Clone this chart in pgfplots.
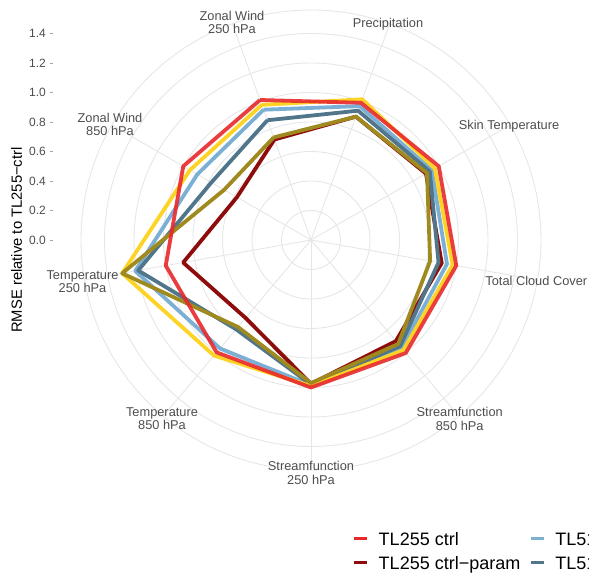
\documentclass[border=0pt]{standalone}
\usepackage{pgfplots}
\pgfplotsset{compat=1.18}
\usepackage{fontspec}
\setmainfont{Liberation Sans}
\definecolor{cRed}{HTML}{E8282B}
\definecolor{cDark}{HTML}{8E0C0C}
\definecolor{cLB}{HTML}{7BAFD4}
\definecolor{cSlate}{HTML}{51758A}
\definecolor{cYel}{HTML}{FDD425}
\definecolor{cOli}{HTML}{9E8A1F}
\definecolor{gridc}{HTML}{E6E6E6}
\definecolor{labc}{HTML}{4D4D4D}
\tikzset{lab/.style={font=\fontsize{12.8bp}{15bp}\selectfont, text=labc, inner sep=0pt, anchor=base}}
\begin{document}
\begin{tikzpicture}
% radial grid
\begin{scope}[shift={(311bp,336bp)}, draw=gridc, line width=0.9bp]
  \foreach \r in {29.5,59,88.5,118,147.5,177,206.5,230}{\draw (0bp,0bp) circle[radius=\r bp];}
  \foreach \a in {110,70,30,-10,-50,-90,-130,190,150}{\draw (0bp,0bp) -- (\a:230bp);}
\end{scope}
\begin{axis}[
  anchor=origin, at={(311bp,336bp)},
  x=147.5bp, y=147.5bp,
  xmin=-1.749, xmax=1.8, ymin=-1.6, ymax=1.6,
  axis x line=none, axis y line*=left,
  y axis line style={draw=none},
  ytick={0,0.2,0.4,0.6,0.8,1.0,1.2,1.4},
  tick align=outside, major tick length=3.5bp,
  ytick style={draw=gray!70, line width=0.6bp},
  yticklabel style={font=\fontsize{12bp}{14bp}\selectfont, text=labc, inner sep=0pt, xshift=-3.5bp,
    /pgf/number format/fixed, /pgf/number format/fixed zerofill, /pgf/number format/precision=1,
    /pgf/number format/assume math mode=true},
  clip=false,
  legend columns=3,
  legend cell align=left,
  legend image code/.code={\draw[line width=3.5bp] (0bp,2.8bp) -- (12.5bp,2.8bp);},
  legend style={at={(axis cs:0.283,-1.982)}, anchor=north west, draw=none, fill=none,
    font=\fontsize{18bp}{20bp}\selectfont, inner sep=0pt, outer sep=0pt, row sep=6.5bp,
    nodes={inner sep=0pt, text height=13bp, text depth=4.5bp},
    /tikz/every odd column/.append style={column sep=10bp},
    /tikz/every even column/.append style={column sep=9bp}},
  every axis plot/.append style={line width=3.8bp, line join=round},
]
% order: ZW250, Precip, Skin, TCC, SF850, SF250, T850, T250, ZW850
\addplot[cDark, data cs=polar, forget plot] coordinates {
 (110,0.725) (70,0.89) (30,0.90) (-10,0.90) (-50,0.895) (-90,0.975) (-130,0.69) (190,0.88) (150,0.58) (110,0.725)};
\addplot[cLB, data cs=polar, forget plot] coordinates {
 (110,0.94) (70,0.966) (30,0.946) (-10,0.936) (-50,0.955) (-90,0.985) (-130,0.96) (190,1.21) (150,0.89) (110,0.94)};
\addplot[cSlate, data cs=polar, forget plot] coordinates {
 (110,0.864) (70,0.933) (30,0.93) (-10,0.878) (-50,0.94) (-90,0.98) (-130,0.79) (190,1.19) (150,0.78) (110,0.864)};
\addplot[cYel, data cs=polar, forget plot] coordinates {
 (110,0.975) (70,1.015) (30,0.97) (-10,0.975) (-50,0.975) (-90,0.99) (-130,1.023) (190,1.30) (150,0.948) (110,0.975)};
\addplot[cOli, data cs=polar, forget plot] coordinates {
 (110,0.74) (70,0.89) (30,0.908) (-10,0.82) (-50,0.92) (-90,0.97) (-130,0.77) (190,1.30) (150,0.68) (110,0.74)};
\addplot[cRed, opacity=0.9, data cs=polar, forget plot] coordinates {
 (110,1.01) (70,0.99) (30,1.0) (-10,1.0) (-50,1.0) (-90,1.0) (-130,0.995) (190,1.0) (150,1.0) (110,1.01)};
\addlegendimage{cRed}\addlegendentry{TL255 ctrl}
\addlegendimage{cLB}\addlegendentry{TL511 ctrl}
\addlegendimage{cYel}\addlegendentry{TL1023 ctrl}
\addlegendimage{cDark}\addlegendentry{TL255 ctrl−param}
\addlegendimage{cSlate}\addlegendentry{TL511 ctrl−param}
\addlegendimage{cOli}\addlegendentry{TL1023 ctrl−param}
\end{axis}
% category labels
\node[lab] at (232bp,555.3bp) {Zonal Wind};
\node[lab] at (232bp,542.5bp) {250 hPa};
\node[lab] at (388bp,548.7bp) {Precipitation};
\node[lab] at (509bp,446.5bp) {Skin Temperature};
\node[lab] at (536.3bp,290bp) {Total Cloud Cover};
\node[lab] at (459.7bp,159.2bp) {Streamfunction};
\node[lab] at (459.7bp,145.8bp) {850 hPa};
\node[lab] at (311bp,105bp) {Streamfunction};
\node[lab] at (311bp,91.5bp) {250 hPa};
\node[lab] at (162bp,159bp) {Temperature};
\node[lab] at (162bp,146bp) {850 hPa};
\node[lab] at (82.5bp,296.5bp) {Temperature};
\node[lab] at (82.5bp,283.5bp) {250 hPa};
\node[lab] at (110bp,453.2bp) {Zonal Wind};
\node[lab] at (110bp,440bp) {850 hPa};
% y-axis title
\node[rotate=90, font=\fontsize{14.8bp}{17bp}\selectfont, inner sep=0pt] at (16.7bp,336bp) {RMSE relative to TL255−ctrl};
\pgfresetboundingbox
\useasboundingbox (0bp,0bp) rectangle (589bp,576bp);
\end{tikzpicture}
\end{document}
